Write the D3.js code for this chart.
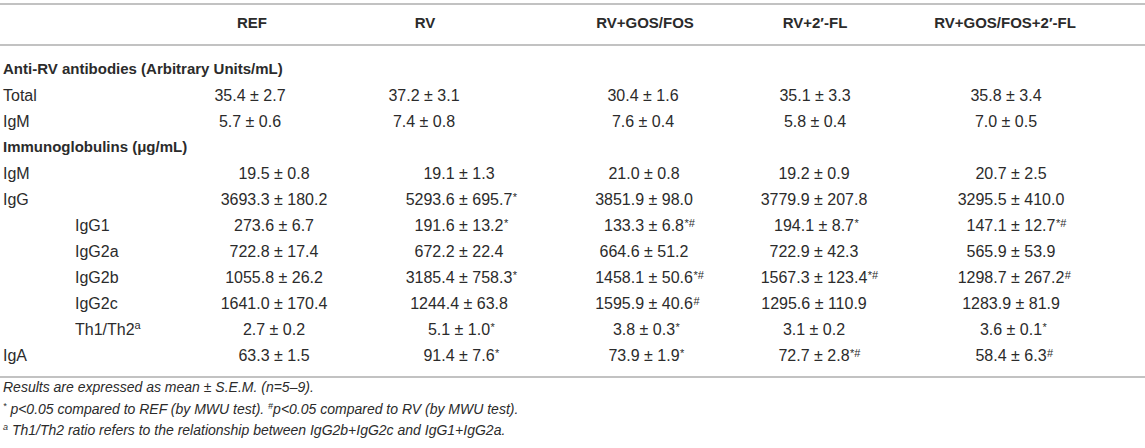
<!DOCTYPE html>
<html>
<head>
<meta charset="utf-8">
<script src="https://cdn.jsdelivr.net/npm/d3@7"></script>
<style>
  body { margin: 0; background: #fff; }
  text { font-family: "Liberation Sans", Arial, sans-serif; }
</style>
</head>
<body>
<script>
// column headers and row labels
var groups = ["REF", "RV", "RV+GOS/FOS", "RV+2\u2032-FL", "RV+GOS/FOS+2\u2032-FL"];
var sections = ["Anti-RV antibodies (Arbitrary Units/mL)", "Immunoglobulins (\u03bcg/mL)"];
var rowLabels = ["Total", "IgM", "IgM", "IgG", "IgG1", "IgG2a", "IgG2b", "IgG2c", "Th1/Th2", "IgA"];
var rowSection = [0, 0, 1, 1, 1, 1, 1, 1, 1, 1];
var rowIndent = [0, 0, 0, 0, 1, 1, 1, 1, 1, 0];
var rowLabelSup = ["", "", "", "", "", "", "", "", "a", ""];

// mean values, one row per measure, one column per group
var meanValues = [
  [35.4, 37.2, 30.4, 35.1, 35.8],
  [5.7, 7.4, 7.6, 5.8, 7.0],
  [19.5, 19.1, 21.0, 19.2, 20.7],
  [3693.3, 5293.6, 3851.9, 3779.9, 3295.5],
  [273.6, 191.6, 133.3, 194.1, 147.1],
  [722.8, 672.2, 664.6, 722.9, 565.9],
  [1055.8, 3185.4, 1458.1, 1567.3, 1298.7],
  [1641.0, 1244.4, 1595.9, 1295.6, 1283.9],
  [2.7, 5.1, 3.8, 3.1, 3.6],
  [63.3, 91.4, 73.9, 72.7, 58.4]
];
var semValues = [
  [2.7, 3.1, 1.6, 3.3, 3.4],
  [0.6, 0.8, 0.4, 0.4, 0.5],
  [0.8, 1.3, 0.8, 0.9, 2.5],
  [180.2, 695.7, 98.0, 207.8, 410.0],
  [6.7, 13.2, 6.8, 8.7, 12.7],
  [17.4, 22.4, 51.2, 42.3, 53.9],
  [26.2, 758.3, 50.6, 123.4, 267.2],
  [170.4, 63.8, 40.6, 110.9, 81.9],
  [0.2, 1.0, 0.3, 0.2, 0.1],
  [1.5, 7.6, 1.9, 2.8, 6.3]
];
var sigMarks = [
  ["", "", "", "", ""],
  ["", "", "", "", ""],
  ["", "", "", "", ""],
  ["", "*", "", "", ""],
  ["", "*", "*#", "*", "*#"],
  ["", "", "", "", ""],
  ["", "*", "*#", "*#", "#"],
  ["", "", "#", "", ""],
  ["", "*", "*", "", "*"],
  ["", "*", "*", "*#", "#"]
];
var footnotes = [
  "Results are expressed as mean \u00b1 S.E.M. (n=5\u20139).",
  " p<0.05 compared to REF (by MWU test). ",
  " Th1/Th2 ratio refers to the relationship between IgG2b+IgG2c and IgG1+IgG2a."
];

var w = 1145, h = 448;
var svg = d3.select("body").append("svg")
  .attr("width", w)
  .attr("height", h);

// row positions: section 0, its rows, section 1, its rows
var lines = ["s0", "r0", "r1", "s1", "r2", "r3", "r4", "r5", "r6", "r7", "r8", "r9"];
var y = d3.scalePoint().domain(lines).range([69, 355]);

// column centres (the lower block sits a bit to the right in the first two columns)
var colX = [252, 425, 645, 815, 1005];
var colXTop = [250, 424, 643, 815, 1006];
var colXLow = [274, 459, 644, 814, 1011];

var ink = "#2b2b2b";

// rules
svg.selectAll("line.rule")
  .data([4, 45, 377])
  .enter().append("line")
  .attr("x1", 0).attr("x2", w)
  .attr("y1", function(d) { return d; })
  .attr("y2", function(d) { return d; })
  .attr("stroke", "#c2c2c2")
  .attr("stroke-width", 2);

// header row
svg.selectAll("text.head")
  .data(groups)
  .enter().append("text")
  .attr("x", function(d, i) { return colX[i]; })
  .attr("y", 23)
  .attr("dy", "0.35em")
  .attr("text-anchor", "middle")
  .attr("font-weight", "bold")
  .attr("font-size", 15)
  .attr("fill", ink)
  .text(function(d) { return d; });

// section titles
svg.selectAll("text.sec")
  .data(sections)
  .enter().append("text")
  .attr("x", 3)
  .attr("y", function(d, i) { return y("s" + i); })
  .attr("dy", "0.35em")
  .attr("font-weight", "bold")
  .attr("font-size", 15)
  .attr("fill", ink)
  .text(function(d) { return d; });

// row labels
var lab = svg.selectAll("text.lab")
  .data(rowLabels)
  .enter().append("text")
  .attr("x", function(d, i) { return rowIndent[i] ? 75 : 3; })
  .attr("y", function(d, i) { return y("r" + i); })
  .attr("dy", "0.35em")
  .attr("font-size", 16)
  .attr("fill", ink)
  .text(function(d) { return d; });
lab.append("tspan")
  .attr("font-size", 11)
  .attr("dy", "-0.5em")
  .text(function(d, i) { return rowLabelSup[i]; });

// value cells
meanValues.forEach(function(row, r) {
  row.forEach(function(m, c) {
    var cx = rowSection[r] === 0 ? colXTop[c] : colXLow[c];
    var base = y("r" + r) + 5.6;
    var t = svg.append("text")
      .attr("x", cx)
      .attr("y", base)
      .attr("text-anchor", "middle")
      .attr("font-size", 16)
      .attr("fill", ink)
      .text(d3.format(".1f")(m) + " \u00b1 " + d3.format(".1f")(semValues[r][c]));
    if (sigMarks[r][c]) {
      var len = t.node().getComputedTextLength();
      svg.append("text")
        .attr("x", cx + len / 2 + 0.5)
        .attr("y", base - 4)
        .attr("font-size", 11)
        .attr("fill", ink)
        .text(sigMarks[r][c]);
    }
  });
});

// footnotes
var fn = svg.append("g")
  .attr("font-style", "italic")
  .attr("font-size", 14)
  .attr("fill", ink);
fn.append("text").attr("x", 3).attr("y", 392).text(footnotes[0]);
var f2 = fn.append("text").attr("x", 3).attr("y", 414);
f2.append("tspan").attr("font-size", 9).attr("dy", -5).text("*");
f2.append("tspan").attr("dy", 5).text(footnotes[1]);
f2.append("tspan").attr("font-size", 9).attr("dy", -5).text("#");
f2.append("tspan").attr("dy", 5).text("p<0.05 compared to RV (by MWU test).");
var f3 = fn.append("text").attr("x", 3).attr("y", 435);
f3.append("tspan").attr("font-size", 9).attr("dy", -5).text("a");
f3.append("tspan").attr("dy", 5).text(footnotes[2]);
</script>
</body>
</html>
